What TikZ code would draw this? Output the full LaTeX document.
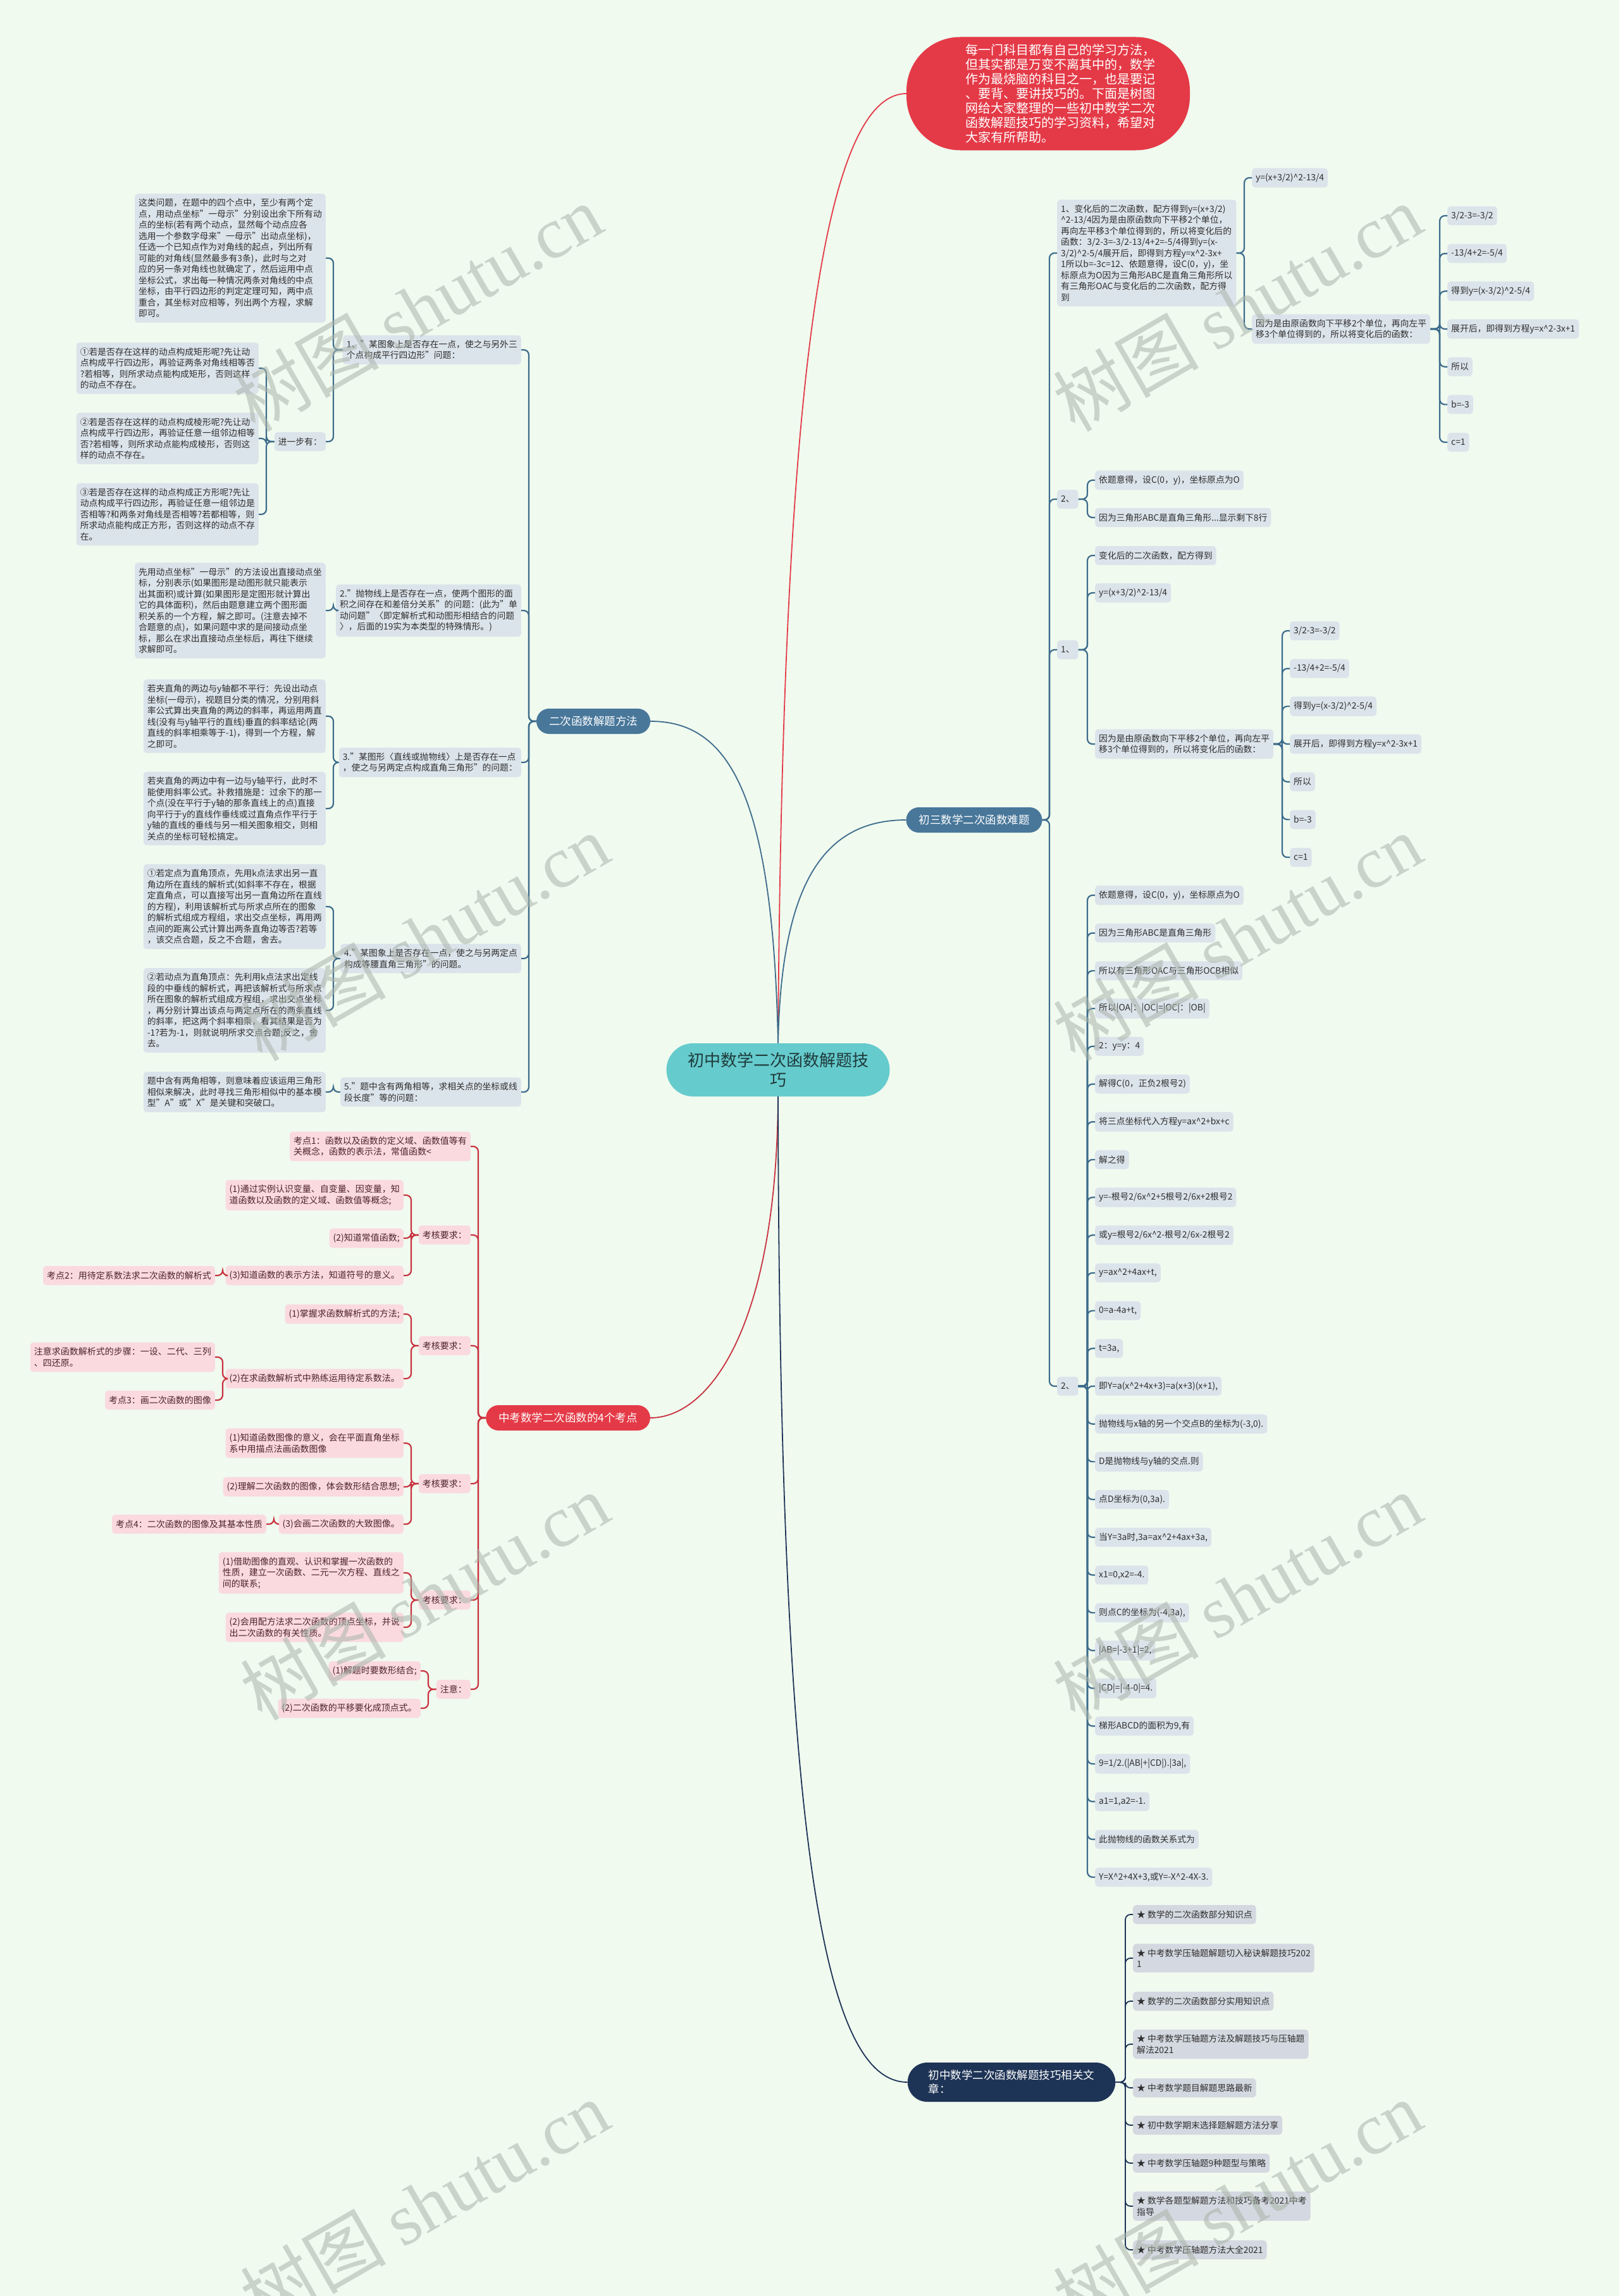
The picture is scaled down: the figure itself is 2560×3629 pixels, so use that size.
\documentclass[tikz,border=0pt]{standalone}
\usepackage{fontspec}
\setmainfont{Noto Sans CJK SC}
\newfontfamily\wmlat{Liberation Serif}
\usetikzlibrary{calc}
\definecolor{bg}{HTML}{F0FAEF}
\definecolor{boxbl}{HTML}{DCE4EB}
\definecolor{boxgr}{HTML}{D4D8E0}
\definecolor{boxpk}{HTML}{FADADF}
\definecolor{txt}{HTML}{2E2E2E}
\definecolor{txtpk}{HTML}{4D2428}
\definecolor{lnbl}{HTML}{3D6B8B}
\definecolor{lnpk}{HTML}{C8323E}
\definecolor{brblue}{HTML}{48779A}
\definecolor{navy}{HTML}{1E3456}
\definecolor{tealc}{HTML}{66CBCD}
\definecolor{ctrtxt}{HTML}{1F3B3C}
\definecolor{topred}{HTML}{E43A47}
\definecolor{wmg}{HTML}{A9B4AA}
\newcommand\ca{\textasciicircum}
\newcommand\fsm{\fontsize{13.8pt}{17.5pt}\selectfont}
\newcommand\fpk{\fontsize{14pt}{17.5pt}\selectfont}
\newcommand\fbr{\fontsize{17.5pt}{22pt}\selectfont}
\newcommand\fct{\fontsize{26pt}{31pt}\selectfont}
\newcommand\ftp{\fontsize{20pt}{23pt}\selectfont}
\newcommand\fwm{\fontsize{115pt}{115pt}\selectfont}
\newcommand\rcon[3]{\draw[#1] (#2.east) -- ($(#2.east -| #3.west)+(-12,0)$) -- ($(#3.west)+(-12,0)$) -- (#3.west);}
\newcommand\lcon[3]{\draw[#1] (#2.west) -- ($(#2.west -| #3.east)+(12,0)$) -- ($(#3.east)+(12,0)$) -- (#3.east);}
\tikzset{
  bbox/.style={fill=boxbl, text=txt, rounded corners=5pt, inner xsep=6pt, inner ysep=8pt, minimum height=30pt, align=left, font=\fsm},
  abox/.style={bbox, fill=boxgr},
  pbox/.style={fill=boxpk, text=txtpk, rounded corners=5pt, inner xsep=6pt, inner ysep=8pt, minimum height=30pt, align=left, font=\fpk},
  brn/.style={fill=brblue, text=white, rounded corners=20pt, inner xsep=20pt, inner ysep=0pt, minimum height=40pt, font=\fbr},
  bl/.style={draw=lnbl, line width=2.2pt, rounded corners=8pt},
  pl/.style={draw=lnpk, line width=2.2pt, rounded corners=8pt},
  nl/.style={draw=navy, line width=1.8pt, rounded corners=8pt},
  wm/.style={text=wmg, opacity=0.55, font=\fwm, rotate=30},
}
\begin{document}
\begin{tikzpicture}[x=1pt,y=-1pt]
\fill[bg] (0,0) rectangle (2560,3629);
\useasboundingbox (0,0) rectangle (2560,3629);

% ---------- centre and main branches ----------
\node[fill=tealc, text=ctrtxt, rounded corners=42pt, minimum width=353pt, minimum height=84pt, align=center, font=\fct, inner sep=0pt] (ctr) at (1230,1691) {初中数学二次函数解题技\\巧};
\node[fill=topred, text=white, rounded corners=85pt, minimum width=448pt, minimum height=179pt, text width=262pt, align=left, font=\ftp, inner sep=0pt] (top) at (1657,148) {每一门科目都有自己的学习方法，\\但其实都是万变不离其中的，数学\\作为最烧脑的科目之一，也是要记\\、要背、要讲技巧的。下面是树图\\网给大家整理的一些初中数学二次\\函数解题技巧的学习资料，希望对\\大家有所帮助。};
\node[brn] (m1) at (938,1140) {二次函数解题方法};
\node[brn] (m2) at (1540,1296) {初三数学二次函数难题};
\node[brn, fill=topred] (m3) at (898,2241) {中考数学二次函数的4个考点};
\node[brn, fill=navy, rounded corners=31pt, minimum height=62pt, align=left, inner xsep=33pt] (m4) at (1599,3291) {初中数学二次函数解题技巧相关文\\章：};

\draw[draw=topred, line width=1.8pt] (ctr.north) .. controls (1236,700) and (1290,148) .. (top.west);
\draw[draw=lnbl, line width=1.8pt] (ctr.north) .. controls (1222,1250) and (1150,1140) .. (m1.east);
\draw[draw=lnbl, line width=1.8pt] (ctr.north) .. controls (1235,1400) and (1300,1296) .. (m2.west);
\draw[draw=lnpk, line width=1.8pt] (ctr.south) .. controls (1228,2100) and (1120,2241) .. (m3.east);
\draw[draw=navy, line width=1.8pt] (ctr.south) .. controls (1232,2900) and (1300,3291) .. (m4.west);

% ---------- left: 二次函数解题方法 ----------
\node[bbox, anchor=east] (L1) at (824,553) {1、"某图象上是否存在一点，使之与另外三\\个点构成平行四边形"问题：};
\node[bbox, anchor=east] (L2) at (824,965) {2."抛物线上是否存在一点，使两个图形的面\\积之间存在和差倍分关系"的问题：(此为"单\\动问题"〈即定解析式和动图形相结合的问题\\〉，后面的19实为本类型的特殊情形。)};
\node[bbox, anchor=east] (L3) at (824,1205) {3."某图形〈直线或抛物线〉上是否存在一点\\，使之与另两定点构成直角三角形"的问题：};
\node[bbox, anchor=east] (L4) at (824,1515) {4."某图象上是否存在一点，使之与另两定点\\构成等腰直角三角形"的问题。};
\node[bbox, anchor=east] (L5) at (824,1726) {5."题中含有两角相等，求相关点的坐标或线\\段长度"等的问题：};
\foreach \n in {L1,L2,L3,L4,L5} {\lcon{bl}{m1}{\n}}

\node[bbox, anchor=east] (P1) at (515,408) {这类问题，在题中的四个点中，至少有两个定\\点，用动点坐标"一母示"分别设出余下所有动\\点的坐标(若有两个动点，显然每个动点应各\\选用一个参数字母来"一母示"出动点坐标)，\\任选一个已知点作为对角线的起点，列出所有\\可能的对角线(显然最多有3条)，此时与之对\\应的另一条对角线也就确定了，然后运用中点\\坐标公式，求出每一种情况两条对角线的中点\\坐标，由平行四边形的判定定理可知，两中点\\重合，其坐标对应相等，列出两个方程，求解\\即可。};
\node[bbox, anchor=east] (P2) at (515,698) {进一步有：};
\lcon{bl}{L1}{P1}
\lcon{bl}{L1}{P2}
\node[bbox, anchor=east] (Q1) at (409,582) {①若是否存在这样的动点构成矩形呢?先让动\\点构成平行四边形，再验证两条对角线相等否\\?若相等，则所求动点能构成矩形，否则这样\\的动点不存在。};
\node[bbox, anchor=east] (Q2) at (409,693) {②若是否存在这样的动点构成棱形呢?先让动\\点构成平行四边形，再验证任意一组邻边相等\\否?若相等，则所求动点能构成棱形，否则这\\样的动点不存在。};
\node[bbox, anchor=east] (Q3) at (409,813) {③若是否存在这样的动点构成正方形呢?先让\\动点构成平行四边形，再验证任意一组邻边是\\否相等?和两条对角线是否相等?若都相等，则\\所求动点能构成正方形，否则这样的动点不存\\在。};
\lcon{bl}{P2}{Q1}
\lcon{bl}{P2}{Q2}
\lcon{bl}{P2}{Q3}

\node[bbox, anchor=east] (S1) at (515,965) {先用动点坐标"一母示"的方法设出直接动点坐\\标，分别表示(如果图形是动图形就只能表示\\出其面积)或计算(如果图形是定图形就计算出\\它的具体面积)，然后由题意建立两个图形面\\积关系的一个方程，解之即可。(注意去掉不\\合题意的点)，如果问题中求的是间接动点坐\\标，那么在求出直接动点坐标后，再往下继续\\求解即可。};
\lcon{bl}{L2}{S1}
\node[bbox, anchor=east] (T1) at (515,1132) {若夹直角的两边与y轴都不平行：先设出动点\\坐标(一母示)，视题目分类的情况，分别用斜\\率公式算出夹直角的两边的斜率，再运用两直\\线(没有与y轴平行的直线)垂直的斜率结论(两\\直线的斜率相乘等于-1)，得到一个方程，解\\之即可。};
\node[bbox, anchor=east] (T2) at (515,1278) {若夹直角的两边中有一边与y轴平行，此时不\\能使用斜率公式。补救措施是：过余下的那一\\个点(没在平行于y轴的那条直线上的点)直接\\向平行于y的直线作垂线或过直角点作平行于\\y轴的直线的垂线与另一相关图象相交，则相\\关点的坐标可轻松搞定。};
\lcon{bl}{L3}{T1}
\lcon{bl}{L3}{T2}
\node[bbox, anchor=east] (U1) at (515,1433) {①若定点为直角顶点，先用k点法求出另一直\\角边所在直线的解析式(如斜率不存在，根据\\定直角点，可以直接写出另一直角边所在直线\\的方程)，利用该解析式与所求点所在的图象\\的解析式组成方程组，求出交点坐标，再用两\\点间的距离公式计算出两条直角边等否?若等\\，该交点合题，反之不合题，舍去。};
\node[bbox, anchor=east] (U2) at (515,1597) {②若动点为直角顶点：先利用k点法求出定线\\段的中垂线的解析式，再把该解析式与所求点\\所在图象的解析式组成方程组，求出交点坐标\\，再分别计算出该点与两定点所在的两条直线\\的斜率，把这两个斜率相乘，看其结果是否为\\-1?若为-1，则就说明所求交点合题;反之，舍\\去。};
\lcon{bl}{L4}{U1}
\lcon{bl}{L4}{U2}
\node[bbox, anchor=east] (V1) at (515,1726) {题中含有两角相等，则意味着应该运用三角形\\相似来解决，此时寻找三角形相似中的基本模\\型"A"或"X"是关键和突破口。};
\lcon{bl}{L5}{V1}

% ---------- right: 初三数学二次函数难题 ----------
\node[bbox, anchor=west] (R1) at (1671,400) {1、变化后的二次函数，配方得到y=(x+3/2)\\\ca2-13/4因为是由原函数向下平移2个单位，\\再向左平移3个单位得到的，所以将变化后的\\函数：3/2-3=-3/2-13/4+2=-5/4得到y=(x-\\3/2)\ca2-5/4展开后，即得到方程y=x\ca2-3x+\\1所以b=-3c=12、依题意得，设C(0，y)，坐\\标原点为O因为三角形ABC是直角三角形所以\\有三角形OAC与变化后的二次函数，配方得\\到};
\node[bbox, anchor=west] (R2) at (1671,789) {2、};
\node[bbox, anchor=west] (R3) at (1671,1027) {1、};
\node[bbox, anchor=west] (R4) at (1671,2191) {2、};
\foreach \n in {R1,R2,R3,R4} {\rcon{bl}{m2}{\n}}

\node[bbox, anchor=west] (R1a) at (1979,281) {y=(x+3/2)\ca2-13/4};
\node[bbox, anchor=west] (R1b) at (1979,520) {因为是由原函数向下平移2个单位，再向左平\\移3个单位得到的，所以将变化后的函数：};
\rcon{bl}{R1}{R1a}
\rcon{bl}{R1}{R1b}

\node[bbox, anchor=west] (R2a) at (1731,759) {依题意得，设C(0，y)，坐标原点为O};
\node[bbox, anchor=west] (R2b) at (1731,818) {因为三角形ABC是直角三角形...显示剩下8行};
\rcon{bl}{R2}{R2a}
\rcon{bl}{R2}{R2b}

\node[bbox, anchor=west] (R3a) at (1731,878) {变化后的二次函数，配方得到};
\node[bbox, anchor=west] (R3b) at (1731,937) {y=(x+3/2)\ca2-13/4};
\node[bbox, anchor=west] (R3c) at (1731,1176) {因为是由原函数向下平移2个单位，再向左平\\移3个单位得到的，所以将变化后的函数：};
\rcon{bl}{R3}{R3a}
\rcon{bl}{R3}{R3b}
\rcon{bl}{R3}{R3c}

\foreach \tx [count=\i] in {{3/2-3=-3/2},{-13/4+2=-5/4},{得到y=(x-3/2)\ca2-5/4},{展开后，即得到方程y=x\ca2-3x+1},{所以},{b=-3},{c=1}} {
  \node[bbox, anchor=west] (ga\i) at (2288,{341+59.67*(\i-1)}) {\tx};
  \rcon{bl}{R1b}{ga\i}
  \node[bbox, anchor=west] (gb\i) at (2039,{997+59.67*(\i-1)}) {\tx};
  \rcon{bl}{R3c}{gb\i}
}

\foreach \tx [count=\i] in {
 {依题意得，设C(0，y)，坐标原点为O},
 {因为三角形ABC是直角三角形},
 {所以有三角形OAC与三角形OCB相似},
 {所以|OA|：|OC|=|OC|：|OB|},
 {2：y=y：4},
 {解得C(0，正负2根号2)},
 {将三点坐标代入方程y=ax\ca2+bx+c},
 {解之得},
 {y=-根号2/6x\ca2+5根号2/6x+2根号2},
 {或y=根号2/6x\ca2-根号2/6x-2根号2},
 {y=ax\ca2+4ax+t,},
 {0=a-4a+t,},
 {t=3a,},
 {即Y=a(x\ca2+4x+3)=a(x+3)(x+1),},
 {抛物线与x轴的另一个交点B的坐标为(-3,0).},
 {D是抛物线与y轴的交点.则},
 {点D坐标为(0,3a).},
 {当Y=3a时,3a=ax\ca2+4ax+3a,},
 {x1=0,x2=-4.},
 {则点C的坐标为(-4,3a),},
 {|AB=|-3+1|=2,},
 {|CD|=|-4-0|=4.},
 {梯形ABCD的面积为9,有},
 {9=1/2.(|AB|+|CD|).|3a|,},
 {a1=1,a2=-1.},
 {此抛物线的函数关系式为},
 {Y=X\ca2+4X+3,或Y=-X\ca2-4X-3.}} {
  \node[bbox, anchor=west] (q\i) at (1731,{1415+59.69*(\i-1)}) {\tx};
  \rcon{bl}{R4}{q\i}
}

% ---------- right bottom: 相关文章 ----------
\foreach \tx/\ay [count=\i] in {
 {★ 数学的二次函数部分知识点}/3026,
 {★ 中考数学压轴题解题切入秘诀解题技巧202\\1}/3095,
 {★ 数学的二次函数部分实用知识点}/3163,
 {★ 中考数学压轴题方法及解题技巧与压轴题\\解法2021}/3231,
 {★ 中考数学题目解题思路最新}/3300,
 {★ 初中数学期末选择题解题方法分享}/3359,
 {★ 中考数学压轴题9种题型与策略}/3419,
 {★ 数学各题型解题方法和技巧备考2021中考\\指导}/3487,
 {★ 中考数学压轴题方法大全2021}/3556} {
  \node[abox, anchor=west] (A\i) at (1791,\ay) {\tx};
  \rcon{nl}{m4}{A\i}
}

% ---------- left bottom: 中考数学二次函数的4个考点 ----------
\node[pbox, anchor=east] (k1) at (744,1812) {考点1：函数以及函数的定义域、函数值等有\\关概念，函数的表示法，常值函数<};
\node[pbox, anchor=east] (r1) at (744,1952) {考核要求：};
\node[pbox, anchor=east] (r2) at (744,2127) {考核要求：};
\node[pbox, anchor=east] (r3) at (744,2345) {考核要求：};
\node[pbox, anchor=east] (r4) at (744,2529) {考核要求：};
\node[pbox, anchor=east] (r5) at (744,2670) {注意：};
\foreach \n in {k1,r1,r2,r3,r4,r5} {\lcon{pl}{m3}{\n}}

\node[pbox, anchor=east] (a1) at (638,1889) {(1)通过实例认识变量、自变量、因变量，知\\道函数以及函数的定义域、函数值等概念;};
\node[pbox, anchor=east] (a2) at (638,1957) {(2)知道常值函数;};
\node[pbox, anchor=east] (a3) at (638,2016) {(3)知道函数的表示方法，知道符号的意义。};
\node[pbox, anchor=east] (k2) at (340,2016) {考点2：用待定系数法求二次函数的解析式};
\lcon{pl}{r1}{a1}
\lcon{pl}{r1}{a2}
\lcon{pl}{r1}{a3}
\lcon{pl}{a3}{k2}

\node[pbox, anchor=east] (b1) at (638,2077) {(1)掌握求函数解析式的方法;};
\node[pbox, anchor=east] (b2) at (638,2179) {(2)在求函数解析式中熟练运用待定系数法。};
\node[pbox, anchor=east] (z1) at (340,2145) {注意求函数解析式的步骤：一设、二代、三列\\、四还原。};
\node[pbox, anchor=east] (k3) at (340,2213) {考点3：画二次函数的图像};
\lcon{pl}{r2}{b1}
\lcon{pl}{r2}{b2}
\lcon{pl}{b2}{z1}
\lcon{pl}{b2}{k3}

\node[pbox, anchor=east] (c1) at (638,2281) {(1)知道函数图像的意义，会在平面直角坐标\\系中用描点法画函数图像};
\node[pbox, anchor=east] (c2) at (638,2350) {(2)理解二次函数的图像，体会数形结合思想;};
\node[pbox, anchor=east] (c3) at (638,2409) {(3)会画二次函数的大致图像。};
\node[pbox, anchor=east] (k4) at (421,2409) {考点4：二次函数的图像及其基本性质};
\lcon{pl}{r3}{c1}
\lcon{pl}{r3}{c2}
\lcon{pl}{r3}{c3}
\lcon{pl}{c3}{k4}

\node[pbox, anchor=east] (d1) at (638,2486) {(1)借助图像的直观、认识和掌握一次函数的\\性质，建立一次函数、二元一次方程、直线之\\间的联系;};
\node[pbox, anchor=east] (d2) at (638,2572) {(2)会用配方法求二次函数的顶点坐标，并说\\出二次函数的有关性质。};
\lcon{pl}{r4}{d1}
\lcon{pl}{r4}{d2}

\node[pbox, anchor=east] (e1) at (665,2641) {(1)解题时要数形结合;};
\node[pbox, anchor=east] (e2) at (665,2700) {(2)二次函数的平移要化成顶点式。};
\lcon{pl}{r5}{e1}
\lcon{pl}{r5}{e2}

% ---------- watermarks ----------
\foreach \wx/\wy in {660/486, 1956/486, 671/1481, 1956/1481, 671/2523, 1956/2523, 671/3483, 1956/3483} {
  \node[wm] at (\wx,\wy) {树图 {\wmlat shutu.cn}};
}
\end{tikzpicture}
\end{document}
